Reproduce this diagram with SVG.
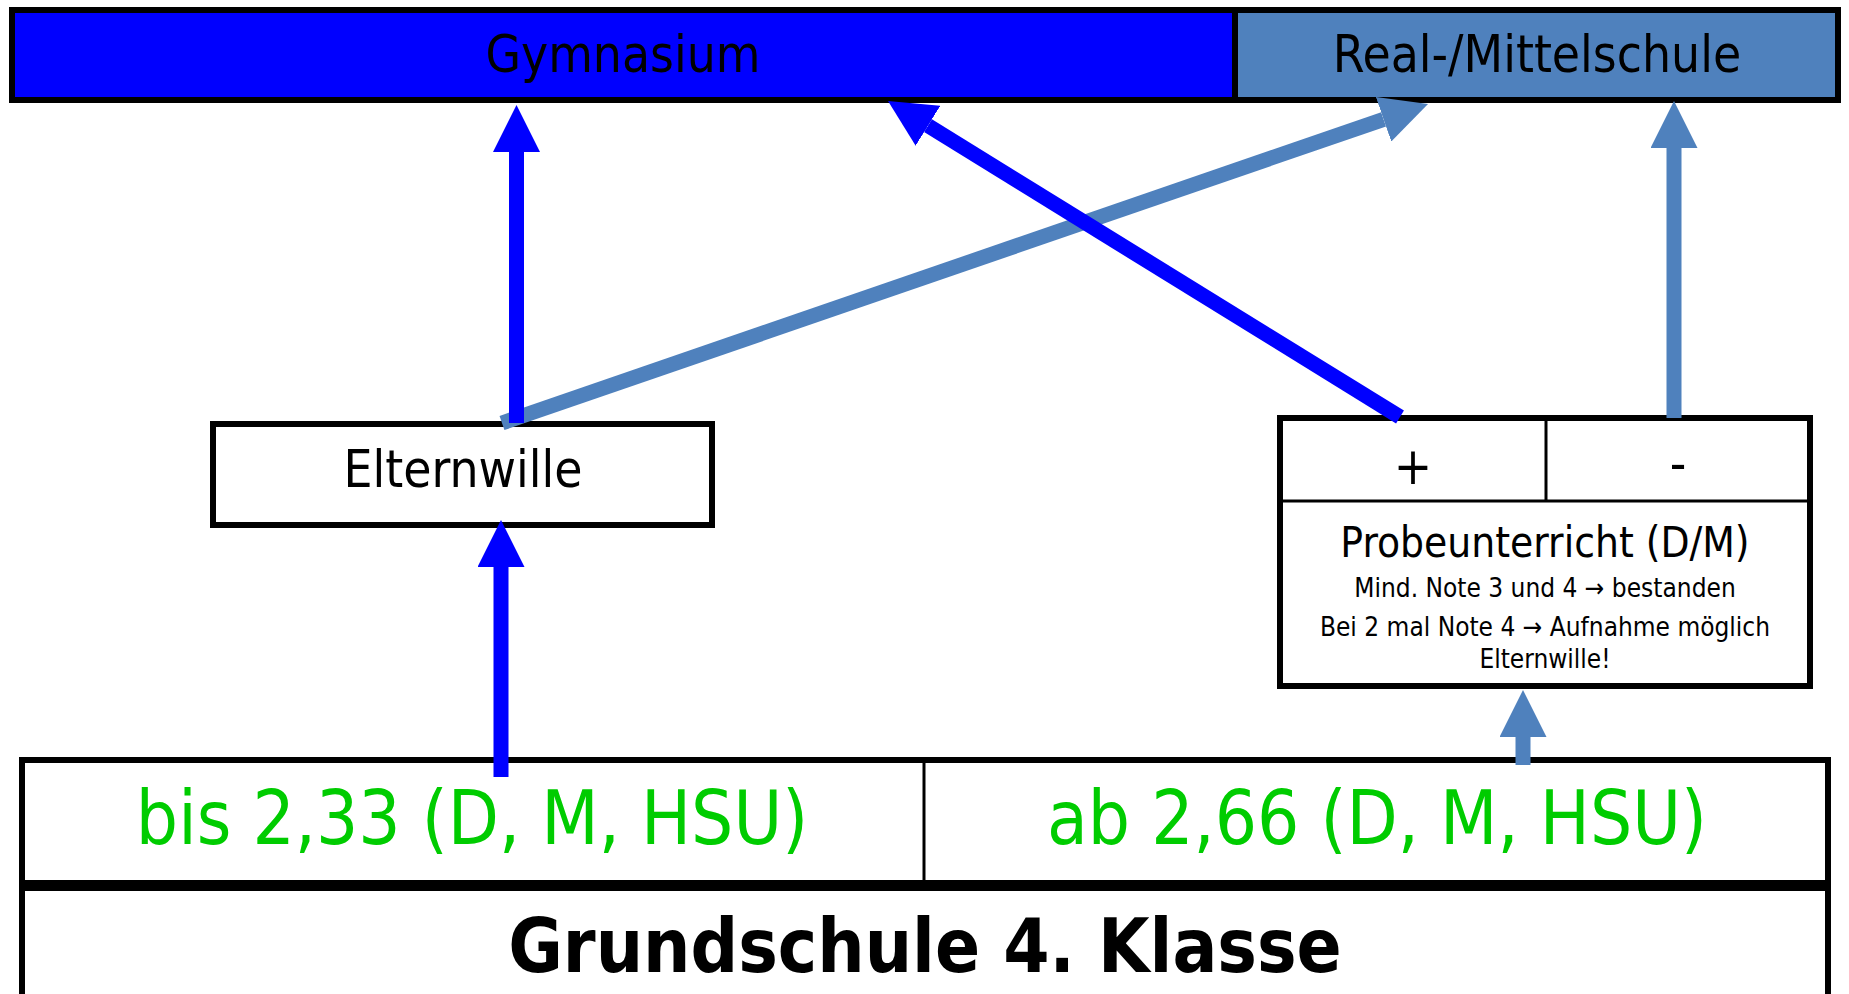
<svg xmlns="http://www.w3.org/2000/svg" width="1849" height="994" viewBox="0 0 1849 994">
<style>
.box{fill:#ffffff;stroke:#000000;stroke-width:6}
.thin{stroke:#000000;stroke-width:3;fill:none}
.t{font-family:"DejaVu Sans Condensed","DejaVu Sans",sans-serif;font-stretch:condensed;text-anchor:middle;fill:#000000}
.green{fill:#00CC00}
.bold{font-weight:bold}
.blue{stroke:#0000FF;stroke-width:15;fill:none}
.steel{stroke:#4F81BD;stroke-width:15;fill:none}
</style>
<defs>
<marker id="hb" markerUnits="userSpaceOnUse" markerWidth="47" markerHeight="47" viewBox="0 -23.5 47 47" refX="0" refY="0" orient="auto">
<path d="M0,-23.5 L47,0 L0,23.5 Z" fill="#0000FF"/>
</marker>
<marker id="hs" markerUnits="userSpaceOnUse" markerWidth="47" markerHeight="47" viewBox="0 -23.5 47 47" refX="0" refY="0" orient="auto">
<path d="M0,-23.5 L47,0 L0,23.5 Z" fill="#4F81BD"/>
</marker>
</defs>
<rect width="1849" height="994" fill="#ffffff"/>

<g id="gymnasium">
<rect x="12" y="10" width="1223" height="90" fill="#0000FF" stroke="#000000" stroke-width="6"/>
<text class="t" x="623" y="72" font-size="51">Gymnasium</text>
</g>
<g id="realschule">
<rect x="1235" y="10" width="603" height="90" fill="#4F81BD" stroke="#000000" stroke-width="6"/>
<text class="t" x="1537" y="72" font-size="51">Real-/Mittelschule</text>
</g>

<g id="elternwille">
<rect class="box" x="213" y="424" width="499" height="101" stroke-width="5"/>
<text class="t" x="463" y="487" font-size="51">Elternwille</text>
</g>

<g id="probeunterricht">
<rect class="box" x="1280" y="418" width="530" height="268" stroke-width="5"/>
<line class="thin" x1="1280" y1="501" x2="1810" y2="501"/>
<line class="thin" x1="1546" y1="418" x2="1546" y2="501"/>
<text class="t" x="1413" y="484" font-size="51">+</text>
<text class="t" x="1678" y="481" font-size="51">-</text>
<text class="t" x="1545" y="557" font-size="42">Probeunterricht (D/M)</text>
<text class="t" x="1545" y="597" font-size="26">Mind. Note 3 und 4 → bestanden</text>
<text class="t" x="1545" y="636" font-size="26">Bei 2 mal Note 4 → Aufnahme möglich</text>
<text class="t" x="1545" y="668" font-size="26">Elternwille!</text>
</g>

<g id="noten">
<rect class="box" x="22" y="760" width="1806" height="123"/>
<line class="thin" x1="924" y1="760" x2="924" y2="883"/>
<text class="t green" x="472" y="844" font-size="74">bis 2,33 (D, M, HSU)</text>
<text class="t green" x="1377" y="844" font-size="74">ab 2,66 (D, M, HSU)</text>
</g>

<g id="grundschule">
<rect class="box" x="22" y="888" width="1806" height="120"/>
<text class="t bold" x="925" y="972" font-size="74">Grundschule 4. Klasse</text>
</g>

<g id="connectors">
<line class="steel" x1="502" y1="423" x2="1383.6" y2="119.3" stroke-width="14" marker-end="url(#hs)"/>
<line class="blue" x1="1400" y1="417" x2="928" y2="125.7" stroke-width="14" marker-end="url(#hb)"/>
<line class="blue" x1="516.5" y1="423" x2="516.5" y2="152" marker-end="url(#hb)"/>
<line class="blue" x1="501" y1="777" x2="501" y2="567" marker-end="url(#hb)"/>
<line class="steel" x1="1674" y1="418" x2="1674" y2="148" marker-end="url(#hs)"/>
<line class="steel" x1="1523" y1="765" x2="1523" y2="737" marker-end="url(#hs)"/>
</g>
</svg>
